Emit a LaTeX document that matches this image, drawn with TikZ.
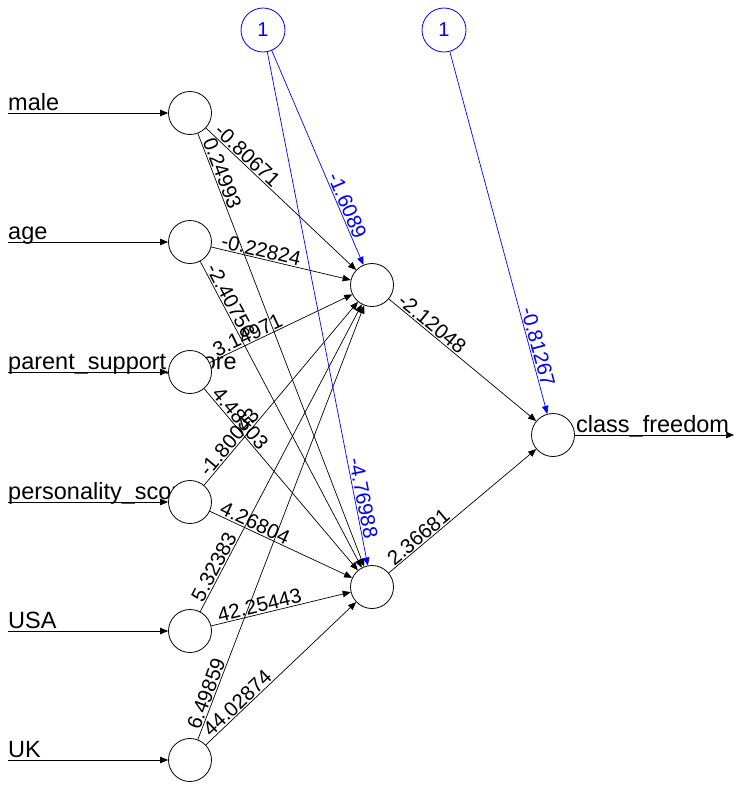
\documentclass[tikz,border=0pt]{standalone}
\usepackage{fontspec}
\setmainfont{Liberation Sans}
\usetikzlibrary{arrows.meta}
\begin{document}
\begin{tikzpicture}[x=1pt,y=-1pt,
  neuron/.style={circle,draw=black,fill=white,minimum size=43pt,inner sep=0pt,line width=0.8pt},
  biasnode/.style={circle,draw=blue,fill=white,minimum size=44pt,inner sep=0pt,line width=0.8pt,text=blue,font=\fontsize{20}{24}\selectfont},
  arr/.style={-{Triangle[length=8pt,width=6.5pt]},line width=0.7pt},
  edge/.style={arr,black},
  bedge/.style={arr,blue},
  nlab/.style={anchor=base west,inner sep=0pt,font=\fontsize{23.5}{28}\selectfont},
  wlab/.style={sloped,anchor=south west,inner xsep=8.5pt,inner ysep=1pt,font=\fontsize{20.5}{24}\selectfont},
  blab/.style={sloped,anchor=south east,inner xsep=26pt,inner ysep=1pt,text=blue,font=\fontsize{20.5}{24}\selectfont}
]
\useasboundingbox (0,0) rectangle (734,785);

% input labels
\node[nlab] (l1) at (8,110) {male};
\node[nlab] (l2) at (8,239) {age};
\node[nlab] (l3) at (8,369) {parent\_support\_score};
\node[nlab] (l4) at (8,499) {personality\_score};
\node[nlab] (l5) at (8,628) {USA};
\node[nlab] (l6) at (8,757) {UK};
\node[nlab] (lo) at (576,432) {class\_freedom};

% node positions
\coordinate (c1) at (190,113);
\coordinate (c2) at (190,242);
\coordinate (c3) at (190,372);
\coordinate (c4) at (190,502);
\coordinate (c5) at (190,631);
\coordinate (c6) at (190,760);

\node[neuron] (i1) at (c1) {};
\node[neuron] (i2) at (c2) {};
\node[neuron] (i3) at (c3) {};
\node[neuron] (i4) at (c4) {};
\node[neuron] (i5) at (c5) {};
\node[neuron] (i6) at (c6) {};
\node[neuron] (h1) at (372,285) {};
\node[neuron] (h2) at (372,587) {};
\node[neuron] (o) at (553,435) {};
\node[biasnode] (b1) at (263,30) {1};
\node[biasnode] (b2) at (444,30) {1};

% input arrows
\coordinate (s1) at (8,113);
\coordinate (s2) at (8,242);
\coordinate (s3) at (8,372);
\coordinate (s4) at (8,502);
\coordinate (s5) at (8,631);
\coordinate (s6) at (8,760);
\coordinate (oe) at (734,435);
\draw[edge] (s1) -- (i1);
\draw[edge] (s2) -- (i2);
\draw[edge] (s3) -- (i3);
\draw[edge] (s4) -- (i4);
\draw[edge] (s5) -- (i5);
\draw[edge] (s6) -- (i6);
\draw[edge] (o) -- (oe);

% weighted edges
\draw[edge] (i1) -- (h1) node[wlab,pos=0] {-0.80671};
\draw[edge] (i1) -- (h2) node[wlab,pos=0] {0.24993};
\draw[edge] (i2) -- (h1) node[wlab,pos=0] {-0.22824};
\draw[edge] (i2) -- (h2) node[wlab,pos=0] {-2.40756};
\draw[edge] (i3) -- (h1) node[wlab,pos=0] {3.14971};
\draw[edge] (i3) -- (h2) node[wlab,pos=0] {4.48503};
\draw[edge] (i4) -- (h1) node[wlab,pos=0] {-1.80043};
\draw[edge] (i4) -- (h2) node[wlab,pos=0] {4.26804};
\draw[edge] (i5) -- (h1) node[wlab,pos=0] {5.32383};
\draw[edge] (i5) -- (h2) node[wlab,pos=0] {42.25443};
\draw[edge] (i6) -- (h1) node[wlab,pos=0] {6.49859};
\draw[edge] (i6) -- (h2) node[wlab,pos=0] {44.02874};
\draw[edge] (h1) -- (o) node[wlab,pos=0] {-2.12048};
\draw[edge] (h2) -- (o) node[wlab,pos=0] {2.36681};

% bias edges
\draw[bedge] (b1) -- (h1) node[blab,pos=1] {-1.6089};
\draw[bedge] (b1) -- (h2) node[blab,pos=1] {-4.76988};
\draw[bedge] (b2) -- (o) node[blab,pos=1] {-0.81267};
\end{tikzpicture}
\end{document}
